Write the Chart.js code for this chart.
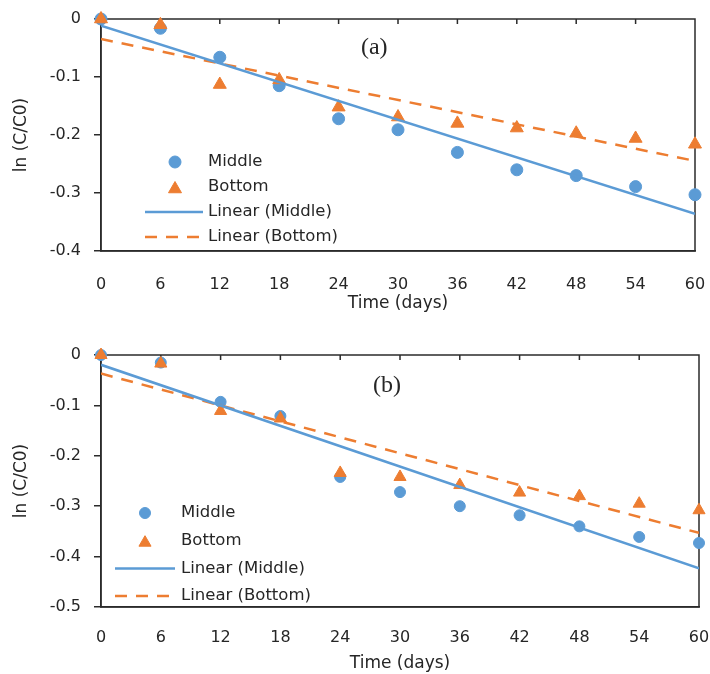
<!DOCTYPE html>
<html>
<head>
<meta charset="utf-8">
<script src="https://cdn.jsdelivr.net/npm/chart.js@4.4.0/dist/chart.umd.min.js"></script>
<style>
  body { margin: 0; background: #fff; }
  canvas { position: absolute; left: 0; }
  #chartA { top: 0; }
  #chartB { top: 330px; }
</style>
</head>
<body>
<canvas id="chartA" width="710" height="320"></canvas>
<canvas id="chartB" width="710" height="344"></canvas>
<script>
// sampling days and ln(C/C0) readings for the two panels
const days = [0, 6, 12, 18, 24, 30, 36, 42, 48, 54, 60];
const middleA = [0, -0.016, -0.066, -0.115, -0.172, -0.191, -0.23, -0.26, -0.27, -0.289, -0.303];
const bottomA = [0, -0.01, -0.113, -0.105, -0.152, -0.169, -0.18, -0.188, -0.197, -0.206, -0.216];
const middleB = [0, -0.015, -0.093, -0.121, -0.242, -0.272, -0.30, -0.318, -0.34, -0.361, -0.373];
const bottomB = [0, -0.017, -0.111, -0.126, -0.234, -0.242, -0.258, -0.273, -0.28, -0.295, -0.308];
const yTicksA = [0, -0.1, -0.2, -0.3, -0.4];
const yTicksB = [0, -0.1, -0.2, -0.3, -0.4, -0.5];
const legendLabels = ["Middle", "Bottom", "Linear (Middle)", "Linear (Bottom)"];

const BLUE = "#5b9bd5";
const ORANGE = "#ed7d31";
const AXIS = "#2b2b2b";
const TEXT = "#262626";
const FONT = "DejaVu Sans";

// least squares line through the readings, as two end points
const fitLine = (xs, ys) => {
  const n = xs.length;
  const mx = xs.reduce((a, b) => a + b, 0) / n;
  const my = ys.reduce((a, b) => a + b, 0) / n;
  let sxy = 0;
  let sxx = 0;
  xs.forEach((x, i) => {
    sxy += (x - mx) * (ys[i] - my);
    sxx += (x - mx) * (x - mx);
  });
  const slope = sxy / sxx;
  const icpt = my - slope * mx;
  return [xs[0], xs[n - 1]].map((x) => ({ x: x, y: icpt + slope * x }));
};

const points = (ys) => days.map((d, i) => ({ x: d, y: ys[i] }));

// keep the plot box where the layout padding puts it
const noEdgePadding = (s) => {
  s.paddingLeft = 0;
  s.paddingRight = 0;
  s.paddingTop = 0;
  s.paddingBottom = 0;
};

// box around the plot, inward ticks on the top edge, panel tag and legend
const framePlugin = {
  id: "frame",
  beforeDatasetsDraw(chart, args, opts) {
    const { ctx, chartArea: a } = chart;
    const x = chart.scales.x;
    ctx.save();
    ctx.strokeStyle = AXIS;
    ctx.lineWidth = 1.5;
    ctx.beginPath();
    ctx.rect(a.left, a.top, a.right - a.left, a.bottom - a.top);
    x.ticks.forEach((t, i) => {
      const px = x.getPixelForTick(i);
      ctx.moveTo(px, a.top);
      ctx.lineTo(px, a.top + 5);
    });
    ctx.stroke();

    ctx.fillStyle = TEXT;
    ctx.font = opts.tagSize + 'px "Liberation Serif"';
    ctx.textAlign = "center";
    ctx.textBaseline = "middle";
    ctx.fillText(opts.tag, x.getPixelForValue(opts.tagAt[0]), chart.scales.y.getPixelForValue(opts.tagAt[1]));
    ctx.restore();
  },
  afterDatasetsDraw(chart, args, opts) {
    const { ctx, chartArea: a } = chart;
    const lg = opts.legend;
    ctx.save();
    ctx.font = '16.5px "' + FONT + '"';
    ctx.textAlign = "left";
    ctx.textBaseline = "middle";
    chart.data.datasets.forEach((ds, i) => {
      const y = a.top + lg.top + i * lg.gap;
      ctx.strokeStyle = ds.borderColor;
      ctx.fillStyle = ds.borderColor;
      if (ds.type === "line") {
        ctx.lineWidth = ds.borderWidth;
        ctx.setLineDash(ds.borderDash || []);
        ctx.beginPath();
        ctx.moveTo(a.left + lg.line[0], y);
        ctx.lineTo(a.left + lg.line[1], y);
        ctx.stroke();
        ctx.setLineDash([]);
      } else {
        Chart.helpers.drawPoint(ctx, { pointStyle: ds.pointStyle, radius: ds.pointRadius, borderWidth: 1 },
          a.left + lg.marker, ds.pointStyle === "triangle" ? y + 2 : y);
      }
      ctx.fillStyle = TEXT;
      ctx.fillText(ds.label, a.left + lg.text, y);
    });
    ctx.restore();
  },
};

const makeChart = (id, cfg) =>
  new Chart(document.getElementById(id), {
    type: "scatter",
    data: {
      datasets: [
        { label: legendLabels[0], data: points(cfg.middle), pointStyle: "circle", pointRadius: cfg.dot,
          backgroundColor: BLUE, borderColor: BLUE, clip: false, order: 3 },
        { label: legendLabels[1], data: points(cfg.bottom), pointStyle: "triangle", pointRadius: cfg.tri,
          backgroundColor: ORANGE, borderColor: ORANGE, clip: false, order: 2 },
        { type: "line", label: legendLabels[2], data: fitLine(days, cfg.middle), borderColor: BLUE,
          borderWidth: 2.5, pointRadius: 0, order: 1 },
        { type: "line", label: legendLabels[3], data: fitLine(days, cfg.bottom), borderColor: ORANGE,
          borderWidth: 2.5, borderDash: [12, 9], pointRadius: 0, order: 1 },
      ],
    },
    options: {
      responsive: false,
      animation: false,
      layout: { padding: { top: cfg.padTop, right: cfg.padRight, left: 0, bottom: 0 } },
      plugins: {
        legend: { display: false },
        tooltip: { enabled: false },
        frame: { tag: cfg.tag, tagAt: cfg.tagAt, tagSize: cfg.tagSize, legend: cfg.legend },
      },
      scales: {
        x: {
          type: "linear",
          min: 0,
          max: 60,
          afterBuildTicks: (s) => { s.ticks = days.map((v) => ({ value: v })); },
          afterFit: (s) => { s.height = cfg.xHeight; noEdgePadding(s); },
          grid: { drawOnChartArea: false, drawTicks: false },
          border: { color: AXIS, width: 1.5 },
          ticks: { padding: cfg.xTickPad, color: TEXT, font: { family: FONT, size: 16 } },
          title: {
            display: true,
            text: "Time (days)",
            color: TEXT,
            font: { family: FONT, size: 17 },
            padding: { top: 0, bottom: cfg.xTitlePad },
          },
        },
        y: {
          type: "linear",
          min: cfg.yTicks[cfg.yTicks.length - 1],
          max: 0,
          afterBuildTicks: (s) => { s.ticks = cfg.yTicks.map((v) => ({ value: v })); },
          afterFit: (s) => { s.width = 101; noEdgePadding(s); },
          grid: { drawOnChartArea: false, tickLength: 7, color: AXIS, lineWidth: 1.5 },
          border: { color: AXIS, width: 1.5 },
          ticks: {
            padding: 13,
            color: TEXT,
            font: { family: FONT, size: 16 },
            callback: (v) => (Math.abs(v) < 1e-9 ? "0" : v.toFixed(1)),
          },
          title: {
            display: true,
            text: "ln (C/C0)",
            color: TEXT,
            font: { family: FONT, size: 17 },
            padding: { top: 11, bottom: 0 },
          },
        },
      },
    },
    plugins: [framePlugin],
  });

makeChart("chartA", {
  middle: middleA,
  bottom: bottomA,
  yTicks: yTicksA,
  dot: 6,
  tri: 7.5,
  padTop: 19,
  padRight: 15,
  xHeight: 69,
  xTickPad: 24,
  xTitlePad: 6.5,
  tag: "(a)",
  tagAt: [27.6, -0.05],
  tagSize: 24,
  legend: { top: 143, gap: 25, marker: 74, line: [44, 102], text: 107 },
});

makeChart("chartB", {
  middle: middleB,
  bottom: bottomB,
  yTicks: yTicksB,
  dot: 5.5,
  tri: 7,
  padTop: 25,
  padRight: 11,
  xHeight: 67,
  xTickPad: 21,
  xTitlePad: 0.5,
  tag: "(b)",
  tagAt: [28.7, -0.06],
  tagSize: 24,
  legend: { top: 158, gap: 27.7, marker: 44, line: [14, 74], text: 80 },
});
</script>
</body>
</html>
